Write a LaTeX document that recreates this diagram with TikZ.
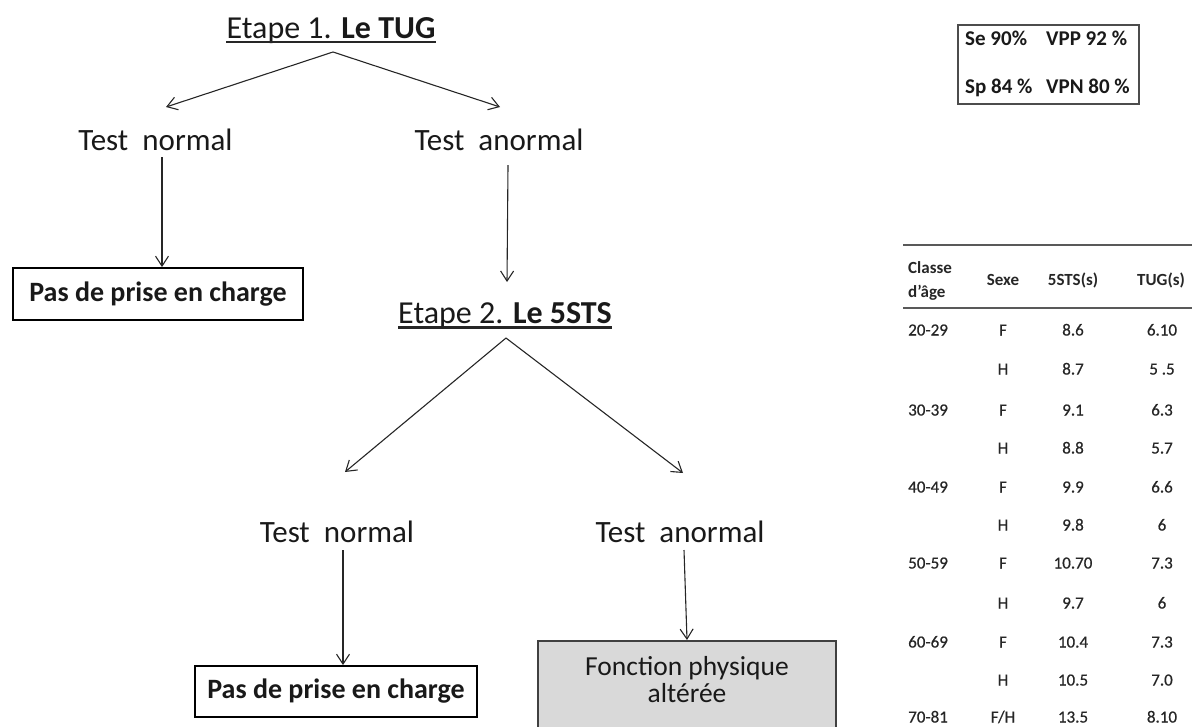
\documentclass[tikz,border=0pt]{standalone}
\usepackage{fontspec}
\setmainfont{Carlito}
\newfontfamily\semib[FakeBold=0.6]{Carlito}
\usetikzlibrary{arrows.meta}
\newcommand\fsz[1]{\fontsize{#1}{#1}\selectfont}
\begin{document}
\begin{tikzpicture}[x=1pt,y=-1pt,
  conn/.style={draw=black!85, line width=1.1pt, -{Straight Barb[length=10pt,width=13pt,line width=1.1pt]}},
  ttl/.style={anchor=base, inner sep=0pt, font=\fsz{32}, text=black!90},
  lbl/.style={anchor=base, inner sep=0pt, font=\fsz{31}, text=black!90},
  outbox/.style={draw=black, line width=1.8pt, minimum width=#1, minimum height=52pt, inner sep=0pt, font=\bfseries\fsz{28}, text=black!90},
  statt/.style={anchor=base west, inner sep=0pt, font=\bfseries\fsz{21}, text=black!90},
  hd/.style={inner sep=0pt, font=\bfseries\fsz{17}, text=black!85},
  cell/.style={anchor=base, inner sep=0pt, font=\semib\fsz{17}, text=black!85},
  trule/.style={line width=2.5pt, draw=black!65}]
\useasboundingbox (0,0) rectangle (1198,726);

% ---------- step 1 ----------
\node[ttl] (t1) at (331,38) {Etape 1. \textbf{Le TUG}};
\draw[line width=2.2pt, black!85] ([yshift=-4pt]t1.base west) -- ([yshift=-4pt]t1.base east);
\coordinate (p1) at ([xshift=2pt,yshift=-14pt]t1.base);

\node[lbl] (n1) at (155.5,150) {Test\ \ normal};
\node[lbl] (a1) at (499,150) {Test\ \ anormal};
\draw[conn] (p1) -- ([xshift=10.5pt,yshift=43pt]n1.base);
\draw[conn] (p1) -- ([xshift=1pt,yshift=43pt]a1.base);

\node[outbox=290pt] (b1) at (158,294) {Pas de prise en charge};
\draw[conn] ([xshift=6.5pt,yshift=-7pt]n1.base) -- ([xshift=4pt]b1.north);

% ---------- step 2 ----------
\node[ttl] (t2) at (505,323) {Etape 2. \textbf{Le 5STS}};
\draw[line width=2.2pt, black!85] ([yshift=-4.5pt]t2.base west) -- ([yshift=-4.5pt]t2.base east);
\draw[conn] ([xshift=9pt,yshift=-15pt]a1.base) -- ([xshift=2pt,yshift=41pt]t2.base);
\coordinate (p2) at ([xshift=1pt,yshift=-15pt]t2.base);

\node[lbl] (n2) at (337,542) {Test\ \ normal};
\node[lbl] (a2) at (680,542) {Test\ \ anormal};
\draw[conn] (p2) -- ([xshift=8pt,yshift=70pt]n2.base);
\draw[conn] (p2) -- ([xshift=3pt,yshift=69pt]a2.base);

\node[outbox=282pt, minimum height=51pt] (b2) at (336,691.5) {Pas de prise en charge};
\node[anchor=north, draw=black!75, line width=1.5pt, fill=black!15, minimum width=298pt, minimum height=110pt, inner sep=0pt] (b3) at (687,640) {};
\node[anchor=base, inner sep=0pt, font=\fsz{27.5}, text=black!90] (b3a) at (687,675) {Fonction physique};
\node[anchor=base, inner sep=0pt, font=\fsz{27.5}, text=black!90] (b3b) at (687,702) {altérée};
\draw[conn] ([xshift=6pt,yshift=-8pt]n2.base) -- ([xshift=7pt]b2.north);
\draw[conn] ([xshift=4pt,yshift=-8pt]a2.base) -- (b3.north);

% ---------- stats box ----------
\node[anchor=north west, draw=black!70, line width=1.5pt, minimum width=181pt, minimum height=79pt, inner sep=0pt] (stats) at (957,24) {};
\node[statt] (se) at (965,45) {Se 90\%};
\node[statt] (vpp) at (1046,45) {VPP 92 \%};
\node[statt] (sp) at (965,93) {Sp 84 \%};
\node[statt] (vpn) at (1046,93) {VPN 80 \%};

% ---------- table ----------
\draw[trule] (903,245) -- (1192,245);
\draw[trule] (903,308) -- (1192,308);
\node[hd, anchor=base west] (hc1) at (908,273) {Classe};
\node[hd, anchor=base west] (hc2) at (908,297) {d’âge};
\node[hd, anchor=base] (hs) at (1003,285) {Sexe};
\node[hd, anchor=base] (h5) at (1073,285) {5STS(s)};
\node[hd, anchor=base] (ht) at (1161,285) {TUG(s)};

\foreach \yy/\ag/\sx/\st/\tg [count=\i] in {
  330/20-29/F/8.6/6.10,
  369//H/8.7/5 .5,
  410/30-39/F/9.1/6.3,
  448//H/8.8/5.7,
  487/40-49/F/9.9/6.6,
  525//H/9.8/6,
  563/50-59/F/10.70/7.3,
  603//H/9.7/6,
  642/60-69/F/10.4/7.3,
  680//H/10.5/7.0,
  717/70-81/F\slash H/13.5/8.10}{
  \node[cell, anchor=base west] (ra\i) at (908,\yy+5.5) {\ag};
  \node[cell] (rs\i) at (1003,\yy+5.5) {\sx};
  \node[cell] (rv\i) at (1073,\yy+5.5) {\st};
  \node[cell] (rt\i) at (1162,\yy+5.5) {\tg};
}
\end{tikzpicture}
\end{document}
